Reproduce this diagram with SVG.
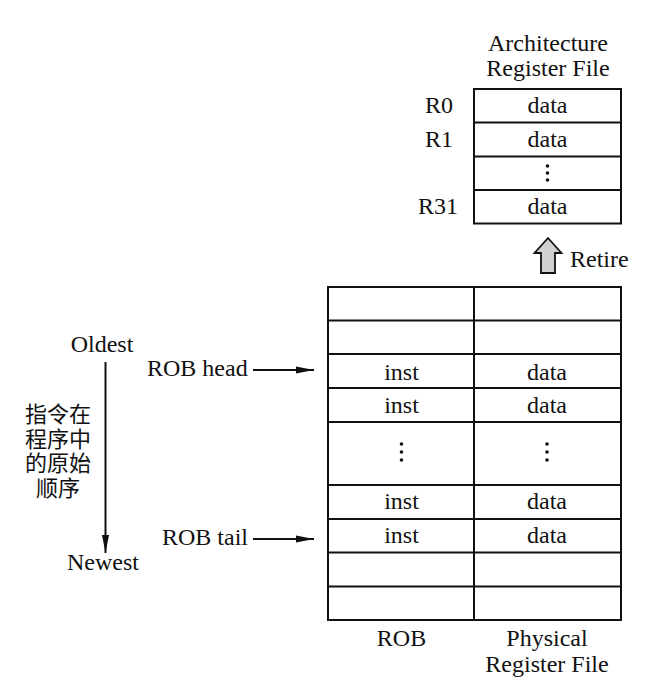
<svg xmlns="http://www.w3.org/2000/svg" width="662" height="682" viewBox="0 0 662 682">
<defs>
<style>
.t{font-family:"Liberation Serif","Times New Roman",serif;font-size:24px;fill:#111;}
.m{text-anchor:middle;}
.cjk{font-family:"Noto Sans CJK SC","Liberation Serif",serif;font-size:22px;fill:#111;text-anchor:middle;}
.box{fill:none;stroke:#111;stroke-width:2;}
.ln{stroke:#111;stroke-width:2;fill:none;}
.dot{fill:#111;}
</style>
<marker id="ah" markerWidth="20" markerHeight="10" refX="18" refY="5" orient="auto" markerUnits="userSpaceOnUse">
<path d="M0,1.5 L18,5 L0,8.5 Z" fill="#111"/>
</marker>
</defs>
<rect width="662" height="682" fill="#fff"/>

<g id="arf">
<text class="t m" x="548" y="51">Architecture</text>
<text class="t m" x="548" y="76">Register File</text>
<rect class="box" x="474" y="89" width="147" height="134.5"/>
<line class="ln" x1="474" y1="122.5" x2="621" y2="122.5"/>
<line class="ln" x1="474" y1="156.5" x2="621" y2="156.5"/>
<line class="ln" x1="474" y1="190" x2="621" y2="190"/>
<text class="t m" x="547.5" y="113">data</text>
<text class="t m" x="547.5" y="147">data</text>
<circle class="dot" cx="547.5" cy="166" r="1.8"/>
<circle class="dot" cx="547.5" cy="173" r="1.8"/>
<circle class="dot" cx="547.5" cy="180" r="1.8"/>
<text class="t m" x="547.5" y="214">data</text>
<text class="t" x="425" y="113">R0</text>
<text class="t" x="425" y="147">R1</text>
<text class="t" x="418" y="214">R31</text>
</g>

<g id="retire">
<path d="M548,238 L561.5,253 L555,253 L555,273 L541,273 L541,253 L534.5,253 Z" fill="#d0d0d0" stroke="#111" stroke-width="1.8" stroke-linejoin="miter"/>
<text class="t" x="570" y="267">Retire</text>
</g>

<g id="rob">
<rect class="box" x="328" y="287" width="293" height="333"/>
<line class="ln" x1="474" y1="287" x2="474" y2="620"/>
<line class="ln" x1="328" y1="320.5" x2="621" y2="320.5"/>
<line class="ln" x1="328" y1="354" x2="621" y2="354"/>
<line class="ln" x1="328" y1="388" x2="621" y2="388"/>
<line class="ln" x1="328" y1="422" x2="621" y2="422"/>
<line class="ln" x1="328" y1="485" x2="621" y2="485"/>
<line class="ln" x1="328" y1="519" x2="621" y2="519"/>
<line class="ln" x1="328" y1="552.5" x2="621" y2="552.5"/>
<line class="ln" x1="328" y1="586.5" x2="621" y2="586.5"/>
<text class="t m" x="401.5" y="380">inst</text>
<text class="t m" x="547" y="380">data</text>
<text class="t m" x="401.5" y="413">inst</text>
<text class="t m" x="547" y="413">data</text>
<circle class="dot" cx="401.5" cy="444" r="1.8"/>
<circle class="dot" cx="401.5" cy="452" r="1.8"/>
<circle class="dot" cx="401.5" cy="460" r="1.8"/>
<circle class="dot" cx="547" cy="444" r="1.8"/>
<circle class="dot" cx="547" cy="452" r="1.8"/>
<circle class="dot" cx="547" cy="460" r="1.8"/>
<text class="t m" x="401.5" y="509">inst</text>
<text class="t m" x="547" y="509">data</text>
<text class="t m" x="401.5" y="543">inst</text>
<text class="t m" x="547" y="543">data</text>
<text class="t m" x="401.5" y="646">ROB</text>
<text class="t m" x="547" y="646">Physical</text>
<text class="t m" x="547" y="672">Register File</text>
</g>

<g id="order">
<text class="t m" x="102" y="352">Oldest</text>
<text class="t m" x="103" y="570">Newest</text>
<text class="cjk"><tspan x="58" y="422">指令在</tspan><tspan x="58" y="446.5">程序中</tspan><tspan x="58" y="471">的原始</tspan><tspan x="58" y="495.5">顺序</tspan></text>
</g>

<g id="pointers">
<text class="t" x="147" y="376">ROB head</text>
<text class="t" x="162" y="545">ROB tail</text>
</g>

<g id="connectors">
<line class="ln" x1="105.5" y1="362" x2="105.5" y2="553" marker-end="url(#ah)"/>
<line class="ln" x1="253" y1="370" x2="314" y2="370" marker-end="url(#ah)"/>
<line class="ln" x1="253" y1="539" x2="314" y2="539" marker-end="url(#ah)"/>
</g>
</svg>
